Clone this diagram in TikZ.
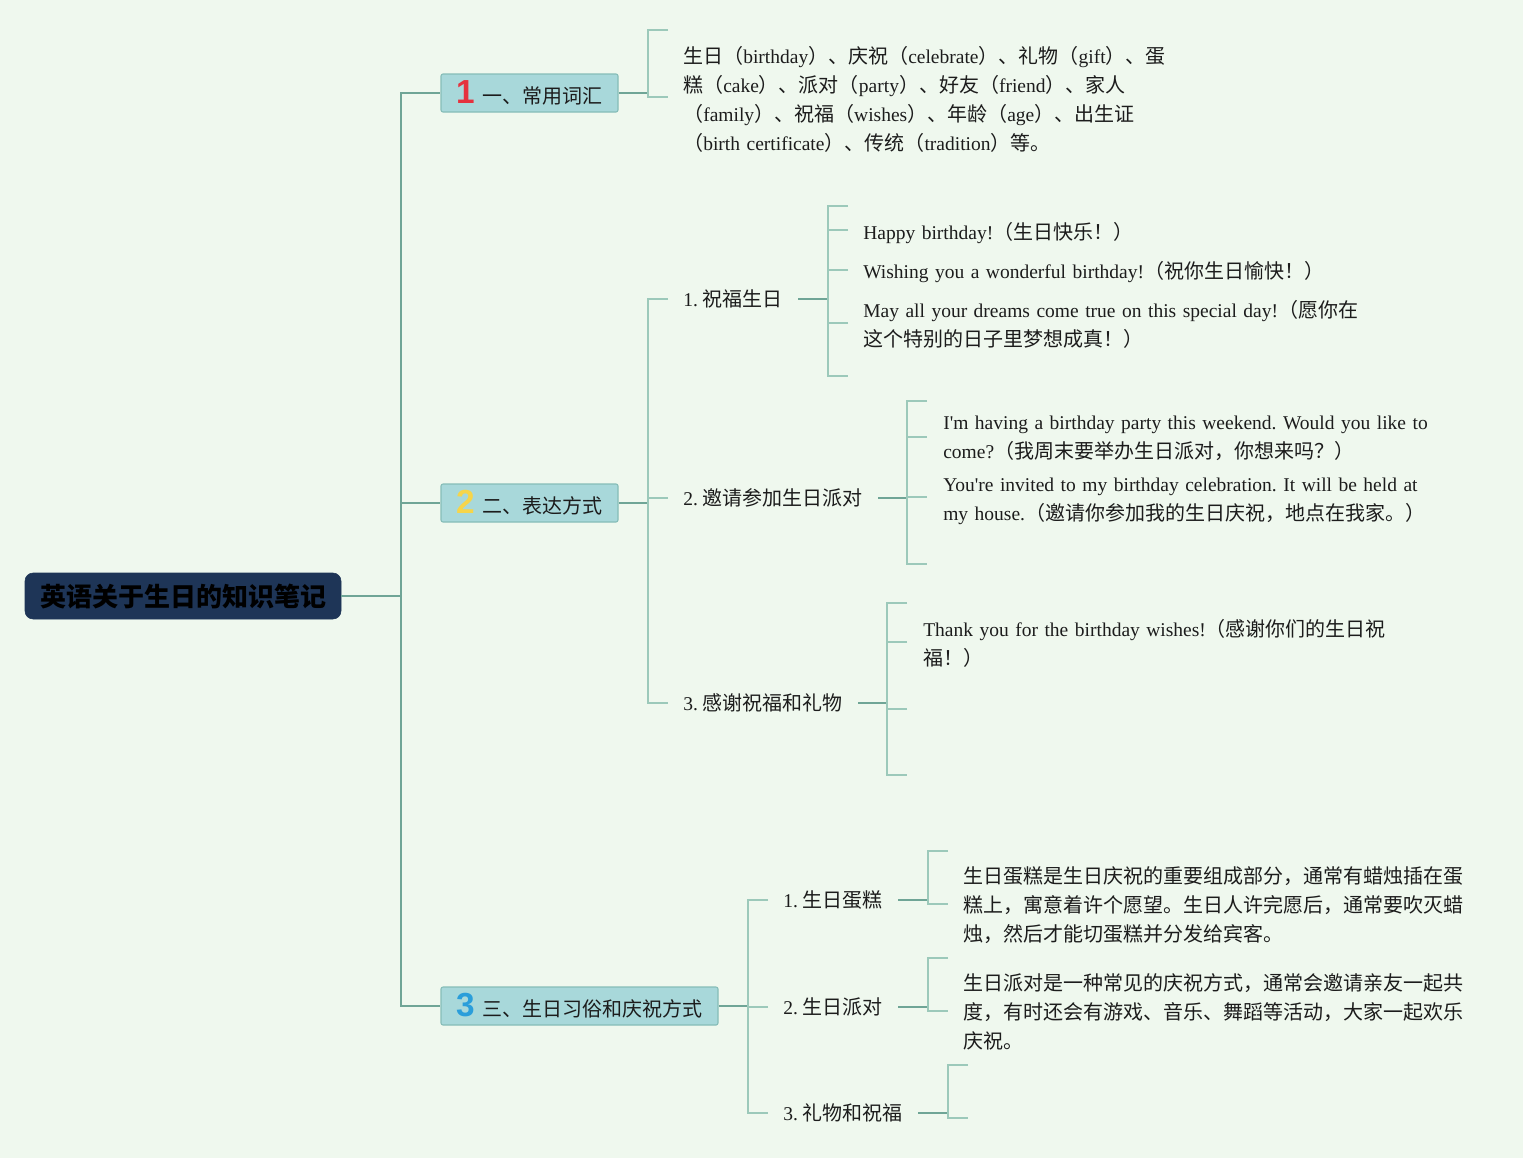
\documentclass[tikz,border=0pt]{standalone}
\usepackage{fontspec}
\setmainfont{Liberation Serif}[Ligatures=TeXOff, Scale=0.975]
\newfontfamily\cjk{Noto Sans CJK SC}
\newfontfamily\latin{Liberation Serif}[Ligatures=TeXOff, Scale=0.975]
\newfontfamily\badgefont{Liberation Sans}
\XeTeXinterchartokenstate=1
\chardef\CJKcls=7
\newcount\cjkcnt
\cjkcnt="3000
\loop\ifnum\cjkcnt<"A000 \XeTeXcharclass\cjkcnt=\CJKcls \advance\cjkcnt by 1 \repeat
\cjkcnt="FF00
\loop\ifnum\cjkcnt<"FFF0 \XeTeXcharclass\cjkcnt=\CJKcls \advance\cjkcnt by 1 \repeat
\XeTeXinterchartoks 0 \CJKcls={\cjk}
\XeTeXinterchartoks 4095 \CJKcls={\cjk}
\XeTeXinterchartoks \CJKcls 0={\latin}
\XeTeXinterchartoks \CJKcls 4095={\latin}
\frenchspacing
\definecolor{bg}{HTML}{EFF8EE}
\definecolor{navy}{HTML}{1E3557}
\definecolor{topicfill}{HTML}{A8D8DA}
\definecolor{topicdraw}{HTML}{86BDB8}
\definecolor{connc}{HTML}{6FA596}
\definecolor{brackc}{HTML}{9CC9BA}
\definecolor{txt}{HTML}{1C1C1C}
\definecolor{bred}{HTML}{E5323E}
\definecolor{byel}{HTML}{F6D54A}
\definecolor{bblue}{HTML}{2A9EDA}
\newcommand{\badge}[2]{{\color{#1}\badgefont\bfseries\fontsize{25}{25}\selectfont #2}\hspace{6pt}}
\tikzset{
  rootbox/.style={draw=navy, fill=navy, rounded corners=6pt, minimum width=237pt, minimum height=34.5pt, inner sep=0pt,
    font=\bfseries\fontsize{19.5}{20}\selectfont, text=black},
  topicbox/.style={draw=topicdraw, line width=0.8pt, fill=topicfill, rounded corners=1.5pt, minimum height=28.5pt, inner sep=0pt,
    font=\fontsize{15}{18}\selectfont, text=txt},
  sublabel/.style={anchor=west, inner xsep=11.25pt, inner ysep=2pt, font=\fontsize{15}{18}\selectfont, text=txt},
  leaftext/.style={anchor=base west, inner sep=0pt, align=left, font=\fontsize{15}{21.75}\selectfont\frenchspacing, text=txt},
  conn/.style={draw=connc, line width=1.1pt},
  brack/.style={draw=brackc, line width=1.1pt},
}
\begin{document}
\begin{tikzpicture}[x=0.75pt, y=-0.75pt]
\path[use as bounding box, fill=bg] (0,0) rectangle (1523,1158);

% root and topics
\node[rootbox] (root) at (183,596) {英语关于生日的知识笔记};
\node[topicbox, minimum width=132.75pt] (b1) at (529.5,93) {\badge{bred}{1}一、常用词汇};
\node[topicbox, minimum width=132.75pt] (b2) at (529.5,503) {\badge{byel}{2}二、表达方式};
\node[topicbox, minimum width=207.75pt] (b3) at (579.5,1006) {\badge{bblue}{3}三、生日习俗和庆祝方式};

\coordinate (t0) at (401,596);
\draw[conn] (root.east) -- (t0);
\draw[conn] (t0) |- (b1.west);
\draw[conn] (t0) |- (b2.west);
\draw[conn] (t0) |- (b3.west);

% branch 1
\coordinate (j1) at (648,93);
\coordinate (s11) at (668,30);
\coordinate (s12) at (668,97);
\draw[conn] (b1.east) -- (j1 |- b1.east);
\draw[brack] (s11) -- ++(-20,0) |- (s12);
\node[leaftext, text width=390pt] (v1) at (683,63) {生日（birthday）、庆祝（celebrate）、礼物（gift）、蛋\\
糕（cake）、派对（party）、好友（friend）、家人\\
（family）、祝福（wishes）、年龄（age）、出生证\\
（birth certificate）、传统（tradition）等。};

% branch 2
\coordinate (j2) at (648,503);
\draw[conn] (b2.east) -- (j2 |- b2.east);
\node[sublabel] (l21) at (668,299) {1. 祝福生日};
\node[sublabel] (l22) at (668,498) {2. 邀请参加生日派对};
\node[sublabel] (l23) at (668,703) {3. 感谢祝福和礼物};
\draw[brack] (l21.west) -- ++(-20,0) |- (l23.west);
\draw[brack] (l22.west) -- ++(-20,0);

% 2.1
\coordinate (j21) at (828,298);
\draw[conn] (l21.east) -- (j21 |- l21.east);
\coordinate (s211) at (848,206);
\coordinate (s212) at (848,230);
\coordinate (s213) at (848,270);
\coordinate (s214) at (848,323);
\coordinate (s215) at (848,376);
\draw[brack] (s211) -- ++(-20,0) |- (s215);
\draw[brack] (s212) -- ++(-20,0);
\draw[brack] (s213) -- ++(-20,0);
\draw[brack] (s214) -- ++(-20,0);
\node[leaftext, text width=420pt] (v211) at (863,239) {Happy birthday!（生日快乐！）};
\node[leaftext, text width=420pt] (v212) at (863,278) {Wishing you a wonderful birthday!（祝你生日愉快！）};
\node[leaftext, text width=420pt] (v213) at (863,317) {May all your dreams come true on this special day!（愿你在\\这个特别的日子里梦想成真！）};

% 2.2
\coordinate (j22) at (907,497);
\draw[conn] (l22.east) -- (j22 |- l22.east);
\coordinate (s221) at (927,401);
\coordinate (s222) at (927,437);
\coordinate (s223) at (927,497);
\coordinate (s224) at (927,564);
\draw[brack] (s221) -- ++(-20,0) |- (s224);
\draw[brack] (s222) -- ++(-20,0);
\draw[brack] (s223) -- ++(-20,0);
\node[leaftext, text width=420pt] (v221) at (943,429) {I'm having a birthday party this weekend. Would you like to\\come?（我周末要举办生日派对，你想来吗？）};
\node[leaftext, text width=420pt] (v222) at (943,491) {You're invited to my birthday celebration. It will be held at\\my house.（邀请你参加我的生日庆祝，地点在我家。）};

% 2.3
\coordinate (j23) at (887,702);
\draw[conn] (l23.east) -- (j23 |- l23.east);
\coordinate (s231) at (907,603);
\coordinate (s232) at (907,642);
\coordinate (s233) at (907,709);
\coordinate (s234) at (907,775);
\draw[brack] (s231) -- ++(-20,0) |- (s234);
\draw[brack] (s232) -- ++(-20,0);
\draw[brack] (s233) -- ++(-20,0);
\node[leaftext, text width=420pt] (v231) at (923,636) {Thank you for the birthday wishes!（感谢你们的生日祝\\福！）};

% branch 3
\coordinate (j3) at (748,1006);
\draw[conn] (b3.east) -- (j3 |- b3.east);
\node[sublabel] (l31) at (768,900) {1. 生日蛋糕};
\node[sublabel] (l32) at (768,1007) {2. 生日派对};
\node[sublabel] (l33) at (768,1113) {3. 礼物和祝福};
\draw[brack] (l31.west) -- ++(-20,0) |- (l33.west);
\draw[brack] (l32.west) -- ++(-20,0);

% 3.1
\coordinate (j31) at (928,900);
\draw[conn] (l31.east) -- (j31 |- l31.east);
\coordinate (s311) at (948,851);
\coordinate (s312) at (948,904);
\draw[brack] (s311) -- ++(-20,0) |- (s312);
\node[leaftext, text width=400pt] (v31) at (963,883) {生日蛋糕是生日庆祝的重要组成部分，通常有蜡烛插在蛋\\糕上，寓意着许个愿望。生日人许完愿后，通常要吹灭蜡\\烛，然后才能切蛋糕并分发给宾客。};

% 3.2
\coordinate (j32) at (928,1007);
\draw[conn] (l32.east) -- (j32 |- l32.east);
\coordinate (s321) at (948,958);
\coordinate (s322) at (948,1011);
\draw[brack] (s321) -- ++(-20,0) |- (s322);
\node[leaftext, text width=400pt] (v32) at (963,990) {生日派对是一种常见的庆祝方式，通常会邀请亲友一起共\\度，有时还会有游戏、音乐、舞蹈等活动，大家一起欢乐\\庆祝。};

% 3.3
\coordinate (j33) at (948,1113);
\draw[conn] (l33.east) -- (j33 |- l33.east);
\coordinate (s331) at (968,1065);
\coordinate (s332) at (968,1118);
\draw[brack] (s331) -- ++(-20,0) |- (s332);
\end{tikzpicture}
\end{document}
